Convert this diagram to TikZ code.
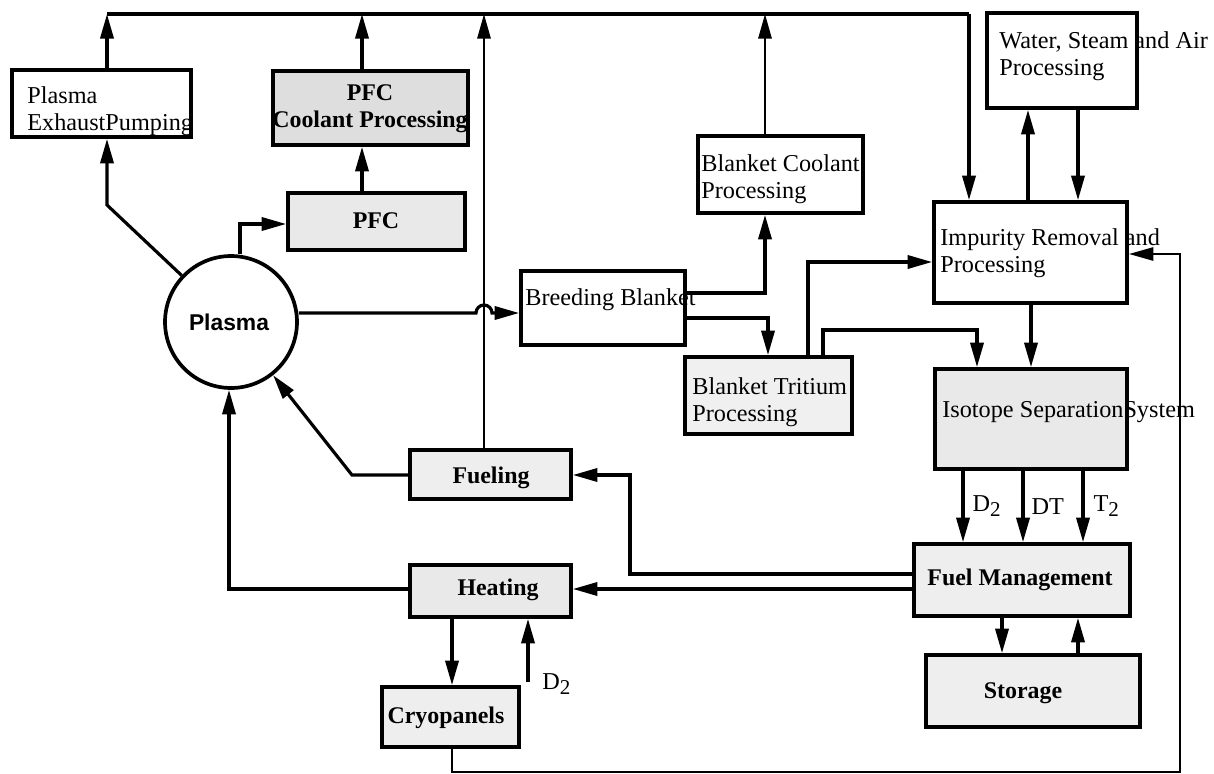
\documentclass[tikz,border=0pt]{standalone}
\usepackage{fontspec}
\setmainfont{Liberation Serif}
\newfontfamily\plasmafont{Liberation Sans}
\usetikzlibrary{arrows.meta,calc}
\newcommand{\diabox}[6]{%
  \pgfmathsetmacro{\dbw}{(#4-#2)*0.02}%
  \pgfmathsetmacro{\dbh}{(#5-#3)*0.02}%
  \node[box,#6,minimum width=\dbw cm,minimum height=\dbh cm] (#1) at ({(#2+#4)/2},{(#3+#5)/2}) {};}
\newcommand{\subtwo}{\raisebox{-0.45ex}{\fontsize{12}{12}\selectfont 2}}
\begin{document}
\begin{tikzpicture}[x=0.02cm,y=-0.02cm,
  box/.style={draw,line width=2.1pt,inner sep=0pt},
  shadeA/.style={fill=gray!17},
  shadeB/.style={fill=gray!26},
  lbl/.style={inner sep=0pt,font=\fontsize{13.8}{15.5}\selectfont,align=left},
  blbl/.style={inner sep=0pt,font=\fontsize{13.6}{15.5}\selectfont\bfseries,align=center},
  conn/.style={line width=1.8pt,-{Triangle[length=14pt,width=7.5pt]}},
  wire/.style={line width=1.8pt}
]
\useasboundingbox (0,0) rectangle (1214,774);

% ---------- boxes ----------
\diabox{pep}{12}{70}{191}{137}{fill=white}
\diabox{pfcc}{273}{71}{468}{145}{shadeB}
\diabox{pfc}{288}{193}{465}{250}{shadeA}
\diabox{bb}{521}{271}{685}{345}{fill=white}
\diabox{bcp}{698}{136}{863}{213}{fill=white}
\diabox{bt}{685}{357}{852}{434}{fill=gray!12}
\diabox{water}{987}{13}{1137}{108}{fill=white}
\diabox{imp}{934}{202}{1127}{303}{fill=white}
\diabox{iso}{935}{369}{1127}{469}{shadeA}
\diabox{fm}{914}{544}{1130}{616}{fill=gray!13}
\diabox{st}{926}{655}{1140}{727}{fill=gray!13}
\diabox{fuel}{410}{450}{571}{499}{fill=gray!13}
\diabox{heat}{410}{565}{571}{617}{shadeA}
\diabox{cryo}{382}{687}{519}{747}{fill=gray!13}
\node[draw,circle,line width=2.1pt,minimum size=2.64cm,inner sep=0pt,fill=white] (plasma) at (231,322) {};

% ---------- texts ----------
\begin{scope}
\clip (pep.north west) rectangle (pep.south east);
\node[lbl,anchor=west] (tpep) at (27,111) {Plasma\\ExhaustPumping};
\end{scope}
\node[blbl] (tpfcc) at (370,109) {PFC\\Coolant Processing};
\node[blbl] (tpfc) at (376,221) {PFC};
\node[inner sep=0pt,font=\plasmafont\fontsize{13}{15}\selectfont\bfseries] (tplasma) at (229,322) {Plasma};
\node[lbl,anchor=west] (tbb) at (525,300) {Breeding Blanket};
\node[lbl,anchor=west] (tbcp) at (701,179) {Blanket Coolant\\Processing};
\node[lbl,anchor=west] (tbt) at (692,402) {Blanket Tritium\\Processing};
\node[lbl,anchor=west] (twater) at (999,56) {Water, Steam and Air\\Processing};
\node[lbl,anchor=west] (timp) at (940,253) {Impurity Removal and\\Processing};
\node[lbl,anchor=west] (tiso) at (942,412) {Isotope SeparationSystem};
\node[blbl] (tfm) at (1020,580) {Fuel Management};
\node[blbl] (tst) at (1023,693) {Storage};
\node[blbl] (tfuel) at (491,478) {Fueling};
\node[blbl] (theat) at (498,590) {Heating};
\node[blbl] (tcryo) at (446,718) {Cryopanels};

% ---------- helper coordinates ----------
\coordinate (bus0) at (107,14);
\coordinate (bus1) at (969,14);
\coordinate (xPfc) at (362,0);
\coordinate (xFuel) at (484,0);
\coordinate (xBc) at (765,0);
\coordinate (yBc) at (0,293);
\coordinate (kPep) at (107,205);
\coordinate (kPfc) at (240,224);
\coordinate (yMain) at (0,313);
\coordinate (xBt) at (768,0);
\coordinate (yBt) at (0,318);
\coordinate (kBi) at (808,262);
\coordinate (kBs) at (823,330);
\coordinate (xIso1) at (977,0);
\coordinate (xImpIso) at (1031,0);
\coordinate (xW1) at (1028,0);
\coordinate (xW2) at (1078,0);
\coordinate (xD) at (963,0);
\coordinate (xDT) at (1023,0);
\coordinate (xT) at (1083,0);
\coordinate (yF1) at (0,574);
\coordinate (kF) at (630,475);
\coordinate (yH) at (0,589);
\coordinate (xS1) at (1002,0);
\coordinate (xS2) at (1078,0);
\coordinate (kFp) at (352,475);
\coordinate (kHp) at (229,589);
\coordinate (xHc) at (452,0);
\coordinate (d2s) at (528,682);
\coordinate (kR1) at (452,772);
\coordinate (kR2) at (1180,254);

% ---------- connectors ----------
\draw[wire] (bus0) -- (bus1);
\draw[conn] (bus1) -- (imp.north -| bus1);
\draw[conn] (pep.north -| bus0) -- (bus0);
\draw[conn] (pfcc.north -| xPfc) -- (bus0 -| xPfc);
\draw[conn] (pfc.north -| xPfc) -- (pfcc.south -| xPfc);
\draw[conn,line width=1.4pt] (fuel.north -| xFuel) -- (bus0 -| xFuel);
\draw[conn,line width=1.4pt] (bcp.north -| xBc) -- (bus0 -| xBc);
\draw[conn] (plasma) -- (kPep) -- (pep.south -| kPep);
\draw[conn] (kPfc |- plasma.north) -- (kPfc) -- (pfc.west |- kPfc);
\draw[conn] (plasma.east |- yMain) -- ($(xFuel |- yMain)+(-8,0)$) arc[start angle=180,end angle=0,radius=0.16cm] -- (bb.west |- yMain);
\draw[conn] (bb.east |- yBc) -| (bcp.south -| xBc);
\draw[conn] (bb.east |- yBt) -| (bt.north -| xBt);
\draw[conn] (bt.north -| kBi) -- (kBi) -- (imp.west |- kBi);
\draw[conn] (bt.north -| kBs) -- (kBs) -| (iso.north -| xIso1);
\draw[conn] (imp.south -| xImpIso) -- (iso.north -| xImpIso);
\draw[conn] (imp.north -| xW1) -- (water.south -| xW1);
\draw[conn] (water.south -| xW2) -- (imp.north -| xW2);
\draw[conn] (iso.south -| xD) -- (fm.north -| xD) node[lbl,pos=0.5,anchor=west,xshift=0.16cm] (lD) {D\subtwo};
\draw[conn] (iso.south -| xDT) -- (fm.north -| xDT) node[lbl,pos=0.5,anchor=west,xshift=0.14cm] (lDT) {DT};
\draw[conn] (iso.south -| xT) -- (fm.north -| xT) node[lbl,pos=0.5,anchor=west,xshift=0.18cm] (lT) {T\subtwo};
\draw[conn] (fm.west |- yF1) -| (kF) -- (fuel.east |- kF);
\draw[conn] (fm.west |- yH) -- (heat.east |- yH);
\draw[conn] (fm.south -| xS1) -- (st.north -| xS1);
\draw[conn] (st.north -| xS2) -- (fm.south -| xS2);
\draw[conn] (fuel.west |- kFp) -- (kFp) -- (plasma);
\draw[conn] (heat.west |- kHp) -- (kHp) -- (kHp |- plasma.south);
\draw[conn] (heat.south -| xHc) -- (cryo.north -| xHc);
\draw[conn] (d2s) -- (heat.south -| d2s);
\node[lbl,anchor=west] (ld2) at (542,684) {D\subtwo};
\draw[conn,line width=1.4pt] (cryo.south -| kR1) -- (kR1) -| (kR2) -- (imp.east |- kR2);
\end{tikzpicture}
\end{document}
